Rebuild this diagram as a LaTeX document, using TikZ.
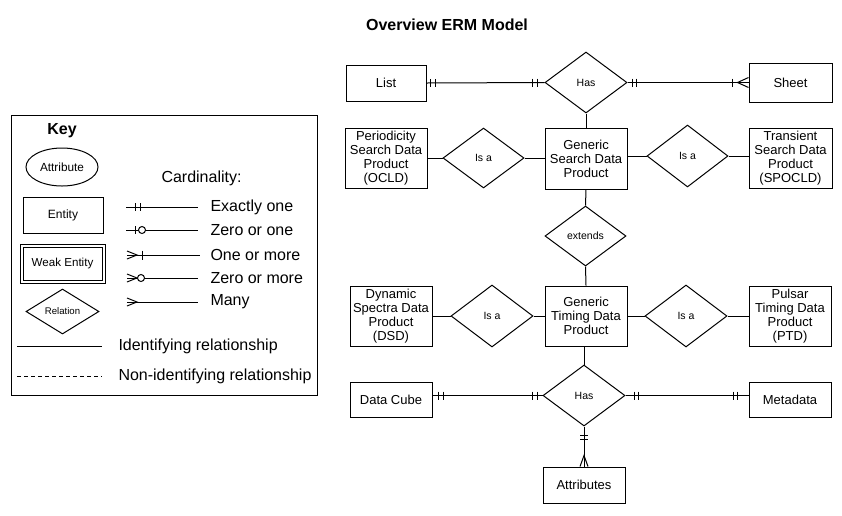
\documentclass[tikz,border=0pt]{standalone}
\usepackage{fontspec}
\setmainfont{Liberation Sans}
\usetikzlibrary{shapes.geometric,calc}
\begin{document}
\begin{tikzpicture}[x=1pt,y=-1pt,line width=1pt,
  entity/.style={draw,rectangle,inner sep=0pt,align=center,font=\fontsize{13}{14}\selectfont},
  rel/.style={draw,diamond,inner sep=0pt,aspect=1.35,font=\fontsize{10.5}{12}\selectfont},
  keytxt/.style={font=\fontsize{16}{18}\selectfont,anchor=west,inner sep=0pt},
  cmark/.style={line width=1pt}]
\useasboundingbox (0,0) rectangle (842,515);
\fill[white] (0,0) rectangle (842,515);
\node[font=\bfseries\fontsize{16}{18}\selectfont] (title) at (447,25) {Overview ERM Model};

% ---- Key ----
\node[draw,rectangle,minimum width=306pt,minimum height=280pt,inner sep=0pt] (keybox) at (164,255) {};
\node[font=\bfseries\fontsize{16}{18}\selectfont] (keyt) at (62,131) {Key};
\node[draw,ellipse,minimum width=72pt,minimum height=38pt,inner sep=0pt,font=\fontsize{11.8}{13}\selectfont] (kattr) at (62,167) {Attribute};
\node[entity,minimum width=80pt,minimum height=36pt,font=\fontsize{12}{13}\selectfont] (kent) at (63,215) {Entity};
\node[draw,double,double distance=2pt,rectangle,minimum width=82pt,minimum height=36pt,inner sep=0pt,font=\fontsize{11.6}{13}\selectfont] (kweak) at (62.5,263.5) {Weak Entity};
\node[draw,diamond,inner sep=0pt,minimum width=73pt,minimum height=45pt,font=\fontsize{9.6}{11}\selectfont] (krel) at (62.5,311.5) {Relation};
\node[keytxt] (kcard) at (161,178) {Cardinality:};
% cardinality lines
\coordinate (c1a) at (126,207); \coordinate (c1b) at (198,207);
\coordinate (c2a) at (126,230); \coordinate (c2b) at (198,230);
\coordinate (c3a) at (127,255); \coordinate (c3b) at (200,255);
\coordinate (c4a) at (127,278); \coordinate (c4b) at (198,278);
\coordinate (c5a) at (127,302); \coordinate (c5b) at (198,302);
\draw (c1a) -- (c1b);
\draw[cmark] ($(c1a)+(9,-4)$) -- ++(0,8) ($(c1a)+(14,-4)$) -- ++(0,8);
\draw (c2a) -- (c2b);
\draw[cmark] ($(c2a)+(9,-4)$) -- ++(0,8);
\draw[fill=white] ($(c2a)+(16,0)$) circle (3.5pt);
\draw (c3a) -- (c3b);
\draw[cmark] ($(c3a)+(0,-4)$) -- ($(c3a)+(10,0)$) -- ($(c3a)+(0,4)$);
\draw[cmark] ($(c3a)+(15,-4.5)$) -- ++(0,9);
\draw (c4a) -- (c4b);
\draw[cmark] ($(c4a)+(0,-4)$) -- ($(c4a)+(10,0)$) -- ($(c4a)+(0,4)$);
\draw[fill=white] ($(c4a)+(14,0)$) circle (3.5pt);
\draw (c5a) -- (c5b);
\draw[cmark] ($(c5a)+(0,-4)$) -- ($(c5a)+(10,0)$) -- ($(c5a)+(0,4)$);
\node[keytxt] (k1) at (210,207) {Exactly one};
\node[keytxt] (k2) at (210,230) {Zero or one};
\node[keytxt] (k3) at (210,255) {One or more};
\node[keytxt] (k4) at (210,278) {Zero or more};
\node[keytxt] (k5) at (210,302) {Many};
\coordinate (ida) at (17,346); \coordinate (idb) at (102,346);
\coordinate (nida) at (17,376); \coordinate (nidb) at (102,376);
\draw (ida) -- (idb);
\draw[dash pattern=on 4pt off 3pt] (nida) -- (nidb);
\node[keytxt] (kid) at (118,346) {Identifying relationship};
\node[keytxt] (knid) at (118,376) {Non-identifying relationship};

% ---- Main diagram ----
\node[entity,minimum width=80pt,minimum height=36pt] (list) at (386,83) {List};
\node[rel,minimum width=82pt,minimum height=61pt] (has1) at (586,82.5) {Has};
\node[entity,minimum width=83pt,minimum height=39pt] (sheet) at (790.5,82.5) {Sheet};

\node[entity,minimum width=82pt,minimum height=60pt] (ocld) at (386,158) {Periodicity\\Search Data\\Product\\(OCLD)};
\node[rel,minimum width=81pt,minimum height=60pt] (isa1) at (483.5,158) {Is a};
\node[entity,minimum width=82pt,minimum height=61pt] (gsdp) at (586,158.5) {Generic\\Search Data\\Product};
\node[rel,minimum width=81pt,minimum height=62pt] (isa2) at (687.5,156) {Is a};
\node[entity,minimum width=83pt,minimum height=60pt] (spocld) at (790.5,158) {Transient\\Search Data\\Product\\(SPOCLD)};

\node[rel,minimum width=81pt,minimum height=60pt] (ext) at (585.5,236) {extends};

\node[entity,minimum width=82pt,minimum height=60pt] (dsd) at (391,316) {Dynamic\\Spectra Data\\Product\\(DSD)};
\node[rel,minimum width=82pt,minimum height=62pt] (isa3) at (492,316) {Is a};
\node[entity,minimum width=82pt,minimum height=60pt] (gtdp) at (586,316) {Generic\\Timing Data\\Product};
\node[rel,minimum width=82pt,minimum height=62pt] (isa4) at (686,316) {Is a};
\node[entity,minimum width=82pt,minimum height=60pt] (ptd) at (790,316) {Pulsar\\Timing Data\\Product\\(PTD)};

\node[rel,minimum width=82pt,minimum height=61pt] (has2) at (584,395.5) {Has};
\node[entity,minimum width=82pt,minimum height=35pt] (dcube) at (391,399.5) {Data Cube};
\node[entity,minimum width=82pt,minimum height=35pt] (meta) at (790,399.5) {Metadata};
\node[entity,minimum width=82pt,minimum height=36pt] (attr) at (584,485) {Attributes};

% connectors
\draw (list.east) -- (has1.west);
\draw (has1.east) -- (sheet.west);
\draw (has1.south) -- (gsdp.north);
\draw (ocld.east) -- (isa1.west);
\draw (isa1.east) -- (isa1.east -| gsdp.west);
\draw (gsdp.east |- isa2.west) -- (isa2.west);
\draw (isa2.east) -- (isa2.east -| spocld.west);
\draw (gsdp.south) -- (ext.north);
\draw (ext.south) -- (gtdp.north);
\draw (dsd.east) -- (isa3.west);
\draw (isa3.east) -- (gtdp.west);
\draw (gtdp.east) -- (isa4.west);
\draw (isa4.east) -- (ptd.west);
\draw (gtdp.south -| has2.north) -- (has2.north);
\draw (has2.west) -- (has2.west -| dcube.east);
\draw (has2.east) -- (has2.east -| meta.west);
\draw (has2.south) -- (attr.north);

% cardinality marks, top Has
\draw[cmark] ($(list.east)+(4,-4)$) -- ++(0,8) ($(list.east)+(9,-4)$) -- ++(0,8);
\draw[cmark] ($(has1.west)+(-12,-4)$) -- ++(0,8) ($(has1.west)+(-7,-4)$) -- ++(0,8);
\draw[cmark] ($(has1.east)+(5,-4)$) -- ++(0,8) ($(has1.east)+(9,-4)$) -- ++(0,8);
\coordinate (sw) at (has1.east -| sheet.west);
\draw[cmark] ($(sw)+(-16,-4)$) -- ++(0,8);
\draw[cmark] ($(sw)+(0,-5)$) -- ($(sw)+(-11,0)$) -- ($(sw)+(0,5)$);

% cardinality marks, bottom Has
\coordinate (de) at (has2.west -| dcube.east);
\draw[cmark] ($(de)+(6,-4)$) -- ++(0,8) ($(de)+(11,-4)$) -- ++(0,8);
\draw[cmark] ($(has2.west)+(-10,-4)$) -- ++(0,8) ($(has2.west)+(-5,-4)$) -- ++(0,8);
\draw[cmark] ($(has2.east)+(9,-4)$) -- ++(0,8) ($(has2.east)+(13,-4)$) -- ++(0,8);
\coordinate (mw) at (has2.east -| meta.west);
\draw[cmark] ($(mw)+(-15,-4)$) -- ++(0,8) ($(mw)+(-11,-4)$) -- ++(0,8);
\draw[cmark] ($(has2.south)+(-4,9)$) -- ++(8,0) ($(has2.south)+(-4,13)$) -- ++(8,0);
\draw[cmark] ($(attr.north)+(-4,0)$) -- ($(attr.north)+(0,-11)$) -- ($(attr.north)+(4,0)$);
\end{tikzpicture}
\end{document}
